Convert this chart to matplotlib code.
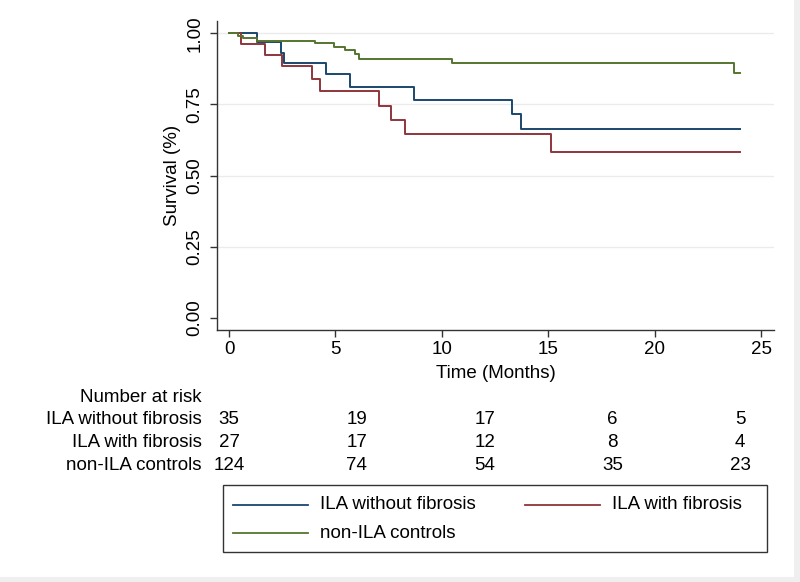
import matplotlib
matplotlib.use("Agg")
import matplotlib.pyplot as plt
from matplotlib.patches import Rectangle
import numpy as np

plt.rcParams['font.family'] = ['Liberation Sans', 'DejaVu Sans']

# Kaplan-Meier step data (months, survival)
t_nofib = [0, 1.3, 2.45, 2.6, 4.55, 5.7, 8.7, 13.3, 13.7, 24.0]
s_nofib = [1.0, 0.971, 0.930, 0.897, 0.857, 0.811, 0.767, 0.716, 0.664, 0.664]

t_fib = [0, 0.55, 1.7, 2.5, 3.9, 4.25, 7.05, 7.6, 8.25, 15.1, 24.0]
s_fib = [1.0, 0.963, 0.925, 0.886, 0.840, 0.797, 0.745, 0.697, 0.647, 0.583, 0.583]

t_ctrl = [0, 0.4, 0.65, 1.3, 4.05, 4.95, 5.45, 5.9, 6.1, 10.45, 23.7, 24.0]
s_ctrl = [1.0, 0.992, 0.984, 0.973, 0.964, 0.952, 0.940, 0.928, 0.911, 0.897, 0.859, 0.859]

groups = ['ILA without fibrosis', 'ILA with fibrosis', 'non-ILA controls']
colors = ['#1a476f', '#90353b', '#55752f']

risk_times = [0, 6, 12, 18, 24]
risk_nofib = [35, 19, 17, 6, 5]
risk_fib = [27, 17, 12, 8, 4]
risk_ctrl = [124, 74, 54, 35, 23]

FS = 13.5
W, H = 800, 582
fig = plt.figure(figsize=(8, 5.82), dpi=100)
fig.patch.set_facecolor('#efefef')

# overlay in pixel coords for background and legend box
ov = fig.add_axes([0, 0, 1, 1], zorder=-1)
ov.set_xlim(0, W)
ov.set_ylim(H, 0)
ov.axis('off')
ov.add_patch(Rectangle((0, 0), 794, 577, facecolor='white', edgecolor='none'))

ax = fig.add_axes([217.5 / W, 1 - 330 / H, (774 - 217.5) / W, (330 - 21) / H])
for t, s, c, g in zip([t_nofib, t_fib, t_ctrl], [s_nofib, s_fib, s_ctrl], colors, groups):
    ax.step(t, s, where='post', color=c, lw=1.4, label=g)

ax.set_xlim(-0.54, 25.59)
ax.set_ylim(-0.042, 1.043)
ax.set_xticks([0, 5, 10, 15, 20, 25])
ax.set_yticks([0, 0.25, 0.5, 0.75, 1.0])
ax.set_yticklabels(['0.00', '0.25', '0.50', '0.75', '1.00'], rotation=90, va='center')
ax.tick_params(axis='both', direction='out', length=5, width=1, color='#333333',
               labelsize=FS, labelcolor='black')
ax.tick_params(axis='y', pad=5)
ax.tick_params(axis='x', pad=3)
for sp in ['top', 'right']:
    ax.spines[sp].set_visible(False)
for sp in ['left', 'bottom']:
    ax.spines[sp].set_color('#333333')
    ax.spines[sp].set_linewidth(1.0)
ax.yaxis.grid(True, color='#ebebeb', lw=1.0)
ax.yaxis.get_gridlines()[0].set_visible(False)
ax.set_axisbelow(True)
ax.set_xlabel('Time (Months)', fontsize=FS, labelpad=5)
ax.set_ylabel('Survival (%)', fontsize=FS, labelpad=4)

# number at risk table
fig.text(201.7 / W, 1 - 397 / H, 'Number at risk', ha='right', va='center', fontsize=FS)
rows_y = [420, 442.5, 465]
for g, y, vals in zip(groups, rows_y, [risk_nofib, risk_fib, risk_ctrl]):
    fig.text(201.7 / W, 1 - y / H, g, ha='right', va='center', fontsize=FS)
    for tt, v in zip(risk_times, vals):
        ax.annotate(str(v), xy=(tt, 1 - y / H), xycoords=('data', 'figure fraction'),
                    ha='center', va='center', fontsize=FS, annotation_clip=False)

# legend box
ov.add_patch(Rectangle((223.3, 485), 766.7 - 223.3, 551.7 - 485, facecolor='white',
                       edgecolor='#333333', lw=1.0))
leg_pos = [(233, 504.7), (525, 504.7), (233, 533.3)]
for (x0, y0), c, g in zip(leg_pos, colors, groups):
    ov.plot([x0, x0 + 75], [y0, y0], color=c, lw=1.3)
    ov.text(x0 + 87, y0, g, ha='left', va='center', fontsize=FS)

fig.savefig('out.png', dpi=100, facecolor=fig.get_facecolor())
